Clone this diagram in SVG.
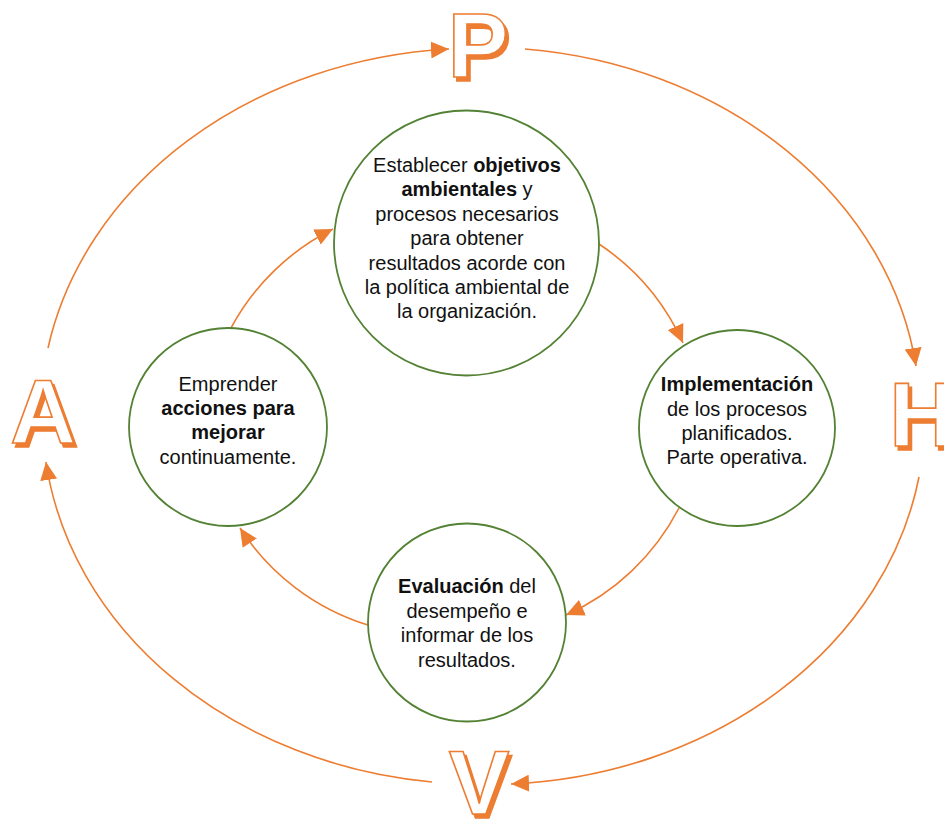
<svg xmlns="http://www.w3.org/2000/svg" width="944" height="819" viewBox="0 0 944 819">
<defs>
<marker id="ah" markerUnits="userSpaceOnUse" markerWidth="18" markerHeight="17" refX="18" refY="8.5" orient="auto">
<path d="M0,0 L18,8.5 L0,17 z" fill="#ED7D31"/>
</marker>
<filter id="shadow" x="-20%" y="-20%" width="150%" height="150%">
<feFlood flood-color="#ED7D31" result="c"/>
<feComposite in="c" in2="SourceAlpha" operator="in" result="s"/>
<feOffset in="s" dx="3" dy="4" result="o"/>
<feMerge><feMergeNode in="o"/><feMergeNode in="SourceGraphic"/></feMerge>
</filter>
<style>
.conn{fill:none;stroke:#ED7D31;stroke-width:1.6;marker-end:url(#ah)}
.node circle{fill:#fff;stroke:#548235;stroke-width:1.8}
.node text{font-family:"Liberation Sans",Arial,sans-serif;font-size:20px;fill:#111;text-anchor:middle}
.b{font-weight:bold}
.let{font-family:"Liberation Sans",Arial,sans-serif;font-weight:bold;font-size:91px;text-anchor:middle;fill:#fff;stroke:#ED7D31;stroke-width:1.6;filter:url(#shadow)}
</style>
</defs>
<rect width="944" height="819" fill="#fff"/>
<g id="connectors">
<path class="conn" d="M525,49 A437,368 0 0 1 916,366"/>
<path class="conn" d="M919,477 A437,368 0 0 1 511,784"/>
<path class="conn" d="M432,782 A437,368 0 0 1 46,462"/>
<path class="conn" d="M48,348 A437,368 0 0 1 449,49"/>
<path class="conn" d="M599,244 A235,235 0 0 1 683,343"/>
<path class="conn" d="M679,508 A235,235 0 0 1 566,615"/>
<path class="conn" d="M368,625 A235,235 0 0 1 240,528"/>
<path class="conn" d="M231,328 A235,235 0 0 1 333,229"/>
</g>
<g id="letter-P"><text class="let" x="478" y="77">P</text></g>
<g id="letter-H"><text class="let" x="922" y="446">H</text></g>
<g id="letter-V"><text class="let" x="479" y="814">V</text></g>
<g id="letter-A"><text class="let" x="43" y="443">A</text></g>
<g id="node-plan" class="node">
<circle cx="466.5" cy="243" r="132.5"/>
<text x="467" y="172">Establecer <tspan class="b">objetivos</tspan></text>
<text x="467" y="196"><tspan class="b">ambientales</tspan> y</text>
<text x="467" y="221">procesos necesarios</text>
<text x="467" y="245">para obtener</text>
<text x="467" y="270">resultados acorde con</text>
<text x="467" y="294">la política ambiental de</text>
<text x="467" y="318">la organización.</text>
</g>
<g id="node-do" class="node">
<circle cx="737" cy="428" r="98"/>
<text x="737" y="391" class="b">Implementación</text>
<text x="737" y="416">de los procesos</text>
<text x="737" y="440">planificados.</text>
<text x="737" y="464">Parte operativa.</text>
</g>
<g id="node-check" class="node">
<circle cx="467" cy="622.5" r="99"/>
<text x="467" y="593"><tspan class="b">Evaluación</tspan> del</text>
<text x="467" y="618">desempeño e</text>
<text x="467" y="642">informar de los</text>
<text x="467" y="667">resultados.</text>
</g>
<g id="node-act" class="node">
<circle cx="228" cy="427" r="99"/>
<text x="228" y="391">Emprender</text>
<text x="228" y="415" class="b">acciones para</text>
<text x="228" y="439" class="b">mejorar</text>
<text x="228" y="464">continuamente.</text>
</g>
</svg>
